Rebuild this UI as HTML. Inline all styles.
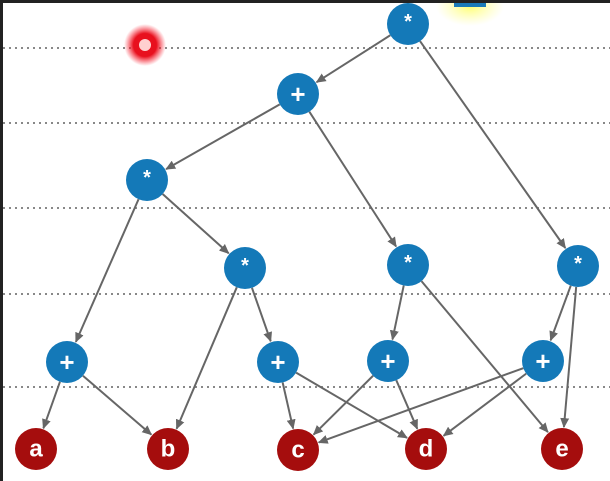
<!DOCTYPE html>
<html><head><meta charset="utf-8"><style>
html,body{margin:0;padding:0;background:#fff}
svg{display:block}
text{font-family:"Liberation Sans",sans-serif;fill:#fff;text-anchor:middle;dominant-baseline:central}
</style></head><body>
<svg width="610" height="481" viewBox="0 0 610 481" xmlns="http://www.w3.org/2000/svg">
<defs>
<marker id="ar" markerWidth="10" markerHeight="10" refX="9" refY="5" orient="auto" markerUnits="userSpaceOnUse">
<path d="M0,0.5 L10,5 L0,9.5 z" fill="#666"/></marker>
<radialGradient id="rg"><stop offset="0.55" stop-color="#e8101e"/><stop offset="1" stop-color="#ff3040" stop-opacity="0"/></radialGradient>
<radialGradient id="yg"><stop offset="0" stop-color="#ffff70"/><stop offset="1" stop-color="#ffffa0" stop-opacity="0"/></radialGradient>
</defs>
<rect width="610" height="481" fill="#fff"/>
<ellipse cx="470" cy="6" rx="34" ry="20" fill="url(#yg)"/>
<rect x="454" y="0" width="32" height="7" fill="#1a7ab8"/>
<g stroke="#888" stroke-width="2" stroke-dasharray="2 4">
<line x1="3" y1="48" x2="610" y2="48"/><line x1="3" y1="123" x2="610" y2="123"/>
<line x1="3" y1="208" x2="610" y2="208"/><line x1="3" y1="294" x2="610" y2="294"/>
<line x1="3" y1="387" x2="610" y2="387"/>
</g>
<circle cx="145" cy="45" r="21" fill="url(#rg)"/>
<circle cx="145" cy="45" r="6" fill="#ffd0d0"/>
<g id="edges" stroke="#666" stroke-width="2" marker-end="url(#ar)"></g>
<g id="nodes"></g>
<rect x="0" y="0" width="610" height="3" fill="#222"/>
<rect x="0" y="0" width="3" height="481" fill="#222"/>
</svg>
<script>
var N={r:[408,24,'*',0],p1:[298,94,'+',0],m1:[147,180,'*',0],m2:[245,268,'*',0],m3:[408,265,'*',0],m4:[578,266,'*',0],
q1:[67,362,'+',0],q2:[278,362,'+',0],q3:[388,361,'+',0],q4:[543,361,'+',0],
a:[36,449,'a',1],b:[168,449,'b',1],c:[298,450,'c',1],d:[426,449,'d',1],e:[562,449,'e',1]};
var E=[['r','p1'],['r','m4'],['p1','m1'],['p1','m3'],['m1','q1'],['m1','m2'],['m2','b'],['m2','q2'],['m3','q3'],['m3','e'],['m4','q4'],['m4','e'],
['q1','a'],['q1','b'],['q2','c'],['q2','d'],['q3','c'],['q3','d'],['q4','c'],['q4','d']];
var ns='http://www.w3.org/2000/svg',R=21,ge=document.getElementById('edges'),gn=document.getElementById('nodes');
E.forEach(function(e){var A=N[e[0]],B=N[e[1]],dx=B[0]-A[0],dy=B[1]-A[1],L=Math.hypot(dx,dy),ux=dx/L,uy=dy/L;
var l=document.createElementNS(ns,'line');l.setAttribute('x1',A[0]+ux*R);l.setAttribute('y1',A[1]+uy*R);
l.setAttribute('x2',B[0]-ux*(R+1));l.setAttribute('y2',B[1]-uy*(R+1));ge.appendChild(l);});
for(var k in N){var n=N[k];var c=document.createElementNS(ns,'circle');c.setAttribute('cx',n[0]);c.setAttribute('cy',n[1]);c.setAttribute('r',R);
c.setAttribute('fill',n[3]?'#a50d0d':'#1479b8');gn.appendChild(c);
var t=document.createElementNS(ns,'text');t.setAttribute('x',n[0]);t.setAttribute('y',n[2]=='*'?n[1]-2:n[1]);
t.setAttribute('font-size',n[3]?24:(n[2]=='*'?20:26));t.setAttribute('font-weight','bold');t.textContent=n[2];gn.appendChild(t);}
</script>
</body></html>
